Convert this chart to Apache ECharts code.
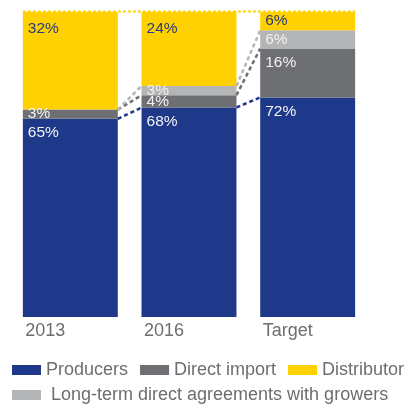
<!DOCTYPE html>
<html>
<head>
<meta charset="utf-8">
<script src="https://cdn.jsdelivr.net/npm/echarts@6/dist/echarts.min.js"></script>
<style>html,body{margin:0;padding:0;background:#fff;}#c{width:412px;height:405px;}</style>
</head>
<body>
<div id="c"></div>
<script>
var categories = ['2013', '2016', 'Target'];
var producers = [65, 68, 72];
var directImport = [3, 4, 16];
var longTerm = [0, 3, 6];
var distributor = [32, 24, 6];

var seriesNames = ['Producers', 'Direct import', 'Long-term direct agreements with growers', 'Distributor'];
var colors = ['#1f398a', '#6e6f72', '#b4b5b7', '#ffd100'];
var raw = [producers, directImport, longTerm, distributor];

// normalise each column to 100%
var totals = categories.map(function (c, i) {
  return raw.reduce(function (s, arr) { return s + arr[i]; }, 0);
});
var shares = raw.map(function (arr) {
  return arr.map(function (v, i) { return v / totals[i] * 100; });
});
// cumulative tops for each level
var cum = [];
raw.forEach(function (arr, k) {
  cum.push(categories.map(function (c, i) {
    var s = 0; for (var q = 0; q <= k; q++) s += shares[q][i]; return s;
  }));
});

var FONT = "'Liberation Sans', Arial, sans-serif";
var barSeries = raw.map(function (arr, k) {
  return {
    name: seriesNames[k],
    type: 'bar',
    stack: 'all',
    barWidth: '80%',
    itemStyle: { color: colors[k] },
    data: shares[k].map(function (v, i) {
      var rv = arr[i];
      var big = rv >= 10;
      return {
        value: v,
        label: {
          show: rv > 0,
          position: big ? [5, k === 3 ? 9 : 6] : 'insideLeft',
          distance: 5,
          formatter: rv + '%',
          color: k === 3 ? '#27397f' : '#f2f2f2',
          fontSize: 15.5,
          fontFamily: FONT
        }
      };
    })
  };
});

// connector data: [fromIndex, fromLevel, toLevel, colorIndex]
var connData = [];
for (var i = 0; i < categories.length - 1; i++) {
  for (var k = 0; k < 3; k++) {
    connData.push([i, cum[k][i], cum[k][i + 1], k]);
  }
}

var connectors = {
  type: 'custom',
  z: 5,
  silent: true,
  renderItem: function (params, api) {
    var i = api.value(0);
    var half = api.size([1, 0])[0] * 0.4;
    var p1 = api.coord([i, api.value(1)]);
    var p2 = api.coord([i + 1, api.value(2)]);
    var k = api.value(3);
    return {
      type: 'line',
      shape: { x1: p1[0] + half, y1: p1[1], x2: p2[0] - half, y2: p2[1] },
      style: { stroke: colors[k], lineWidth: 2.5, lineDash: [4, 3] }
    };
  },
  encode: { x: 0, y: 1 },
  data: connData
};

var topLine = {
  type: 'custom',
  z: 6,
  silent: true,
  renderItem: function (params, api) {
    var half = api.size([1, 0])[0] * 0.4;
    var p1 = api.coord([api.value(0), api.value(2)]);
    var p2 = api.coord([api.value(1), api.value(2)]);
    return {
      type: 'line',
      shape: { x1: p1[0] - half, y1: p1[1] - 0.5, x2: p2[0] + half, y2: p2[1] - 0.5 },
      style: { stroke: colors[3], lineWidth: 2, lineDash: [3, 2] }
    };
  },
  encode: { x: 0, y: 2 },
  data: [[0, categories.length - 1, 100]]
};

var chart = echarts.init(document.getElementById('c'));
chart.setOption({
  animation: false,
  backgroundColor: '#ffffff',
  grid: { left: 11, right: 45, top: 12, bottom: 88 },
  legend: [{
    data: ['Producers', 'Direct import', 'Distributor'],
    left: 12, top: 361, width: 440, padding: 0,
    itemWidth: 29, itemHeight: 10, itemGap: 12,
    icon: 'rect',
    selectedMode: false,
    textStyle: { color: '#6d6e71', fontSize: 18, fontFamily: FONT }
  }, {
    data: ['Long-term direct agreements with growers'],
    left: 12, top: 386, width: 440, padding: 0,
    itemWidth: 29, itemHeight: 10,
    icon: 'rect',
    selectedMode: false,
    formatter: function (n) { return ' ' + n; },
    textStyle: { color: '#6d6e71', fontSize: 18, fontFamily: FONT }
  }],
  xAxis: {
    type: 'category',
    data: categories,
    axisLine: { show: false },
    axisTick: { show: false },
    axisLabel: {
      align: 'left',
      margin: 5,
      padding: [0, 0, 0, -45],
      color: '#6d6e71',
      fontSize: 18,
      fontFamily: FONT
    }
  },
  yAxis: { type: 'value', min: 0, max: 100, show: false },
  series: barSeries.concat([connectors, topLine])
});
</script>
</body>
</html>
